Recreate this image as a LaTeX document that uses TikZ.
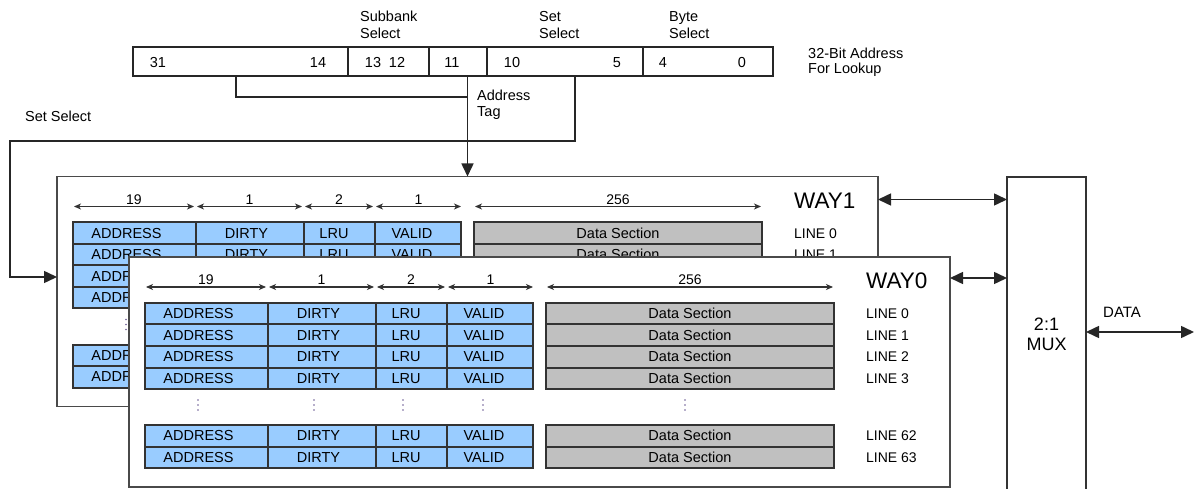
\documentclass[tikz,border=0pt]{standalone}
\usepackage{fontspec}
\setmainfont{Liberation Sans}
\usetikzlibrary{arrows.meta,calc}

\definecolor{tagblue}{HTML}{99CCFF}
\definecolor{datagray}{HTML}{C0C0C0}
\definecolor{edge}{HTML}{333333}
\definecolor{waygray}{HTML}{4A4A4A}
\definecolor{dotpurple}{HTML}{6E5E96}

\newcommand\fsz[1]{\fontsize{#1}{#1}\selectfont}

\tikzset{
  cell/.style={draw=edge, line width=2pt, inner sep=0pt, outer sep=0pt,
    minimum height=21.5pt, font=\fsz{14.5}},
  tagcell/.style={cell, fill=tagblue},
  datacell/.style={cell, fill=datagray},
  nudge/.style={execute at begin node={\hspace*{-#1}}},
  waybox/.style={draw=waygray, line width=1.4pt, fill=white, inner sep=0pt,
    outer sep=0pt, minimum width=821pt, minimum height=230pt},
  waytitle/.style={anchor=west, inner sep=0pt, font=\fsz{22.5}},
  linetag/.style={anchor=west, inner sep=0pt, font=\fsz{14}},
  dimline/.style={draw=black!80, line width=1.1pt,
    {Stealth[length=7pt,width=6pt,inset=2pt]}-{Stealth[length=7pt,width=6pt,inset=2pt]}},
  dimlabel/.style={above, inner sep=1.5pt, font=\fsz{14}},
  field/.style={draw=black!85, line width=1.6pt, inner sep=0pt, outer sep=0pt,
    minimum height=29pt},
  num/.style={inner sep=0pt, font=\fsz{14.5}},
  txt/.style={anchor=base west, inner sep=0pt, font=\fsz{14.5}},
  conn/.style={draw=black!85, line width=1.5pt},
  tip/.style={-{Triangle[length=13pt,width=12pt]}},
  bitip/.style={{Triangle[length=13pt,width=12pt]}-{Triangle[length=13pt,width=12pt]}},
  muxbox/.style={draw=black!80, line width=1.5pt, inner sep=0pt, outer sep=0pt,
    minimum width=79pt, minimum height=314pt, align=center,
    font=\fontsize{18}{20}\selectfont},
}

% One cache line: #1 way, #2 line number, #3 y, #4 = 1 when its texts are in view
\newcommand\wayrow[4]{%
  \node[tagcell, minimum width=123pt, nudge=16pt] (#1-addr-#2) at (206.5,#3) {ADDRESS};
  \ifnum#4=1
    \node[tagcell, minimum width=108pt, nudge=7pt] (#1-dirty-#2) at (322,#3) {DIRTY};
    \node[tagcell, minimum width=71pt, nudge=11pt] (#1-lru-#2) at (411.5,#3) {LRU};
    \node[tagcell, minimum width=86pt, nudge=12pt] (#1-valid-#2) at (490,#3) {VALID};
    \node[datacell, minimum width=288pt] (#1-data-#2) at (690,#3) {Data Section};
    \node[linetag] (#1-line-#2) at (866,#3) {LINE #2};
  \else
    \node[tagcell, minimum width=108pt] (#1-dirty-#2) at (322,#3) {};
    \node[tagcell, minimum width=71pt] (#1-lru-#2) at (411.5,#3) {};
    \node[tagcell, minimum width=86pt] (#1-valid-#2) at (490,#3) {};
    \node[datacell, minimum width=288pt] (#1-data-#2) at (690,#3) {};
  \fi}

% One way of the cache: tag fields, data sections, line numbers and widths
\newcommand\cacheway[5]{%
  \begin{scope}[shift={(#2,#3)}]
    \node[waybox] (#1) at (539.5,372) {};
    \node[waytitle] (#1-title) at (866,281) {#4};
    \foreach \r/\y/\f in {#5}{\wayrow{#1}{\r}{\y}{\f}}
    \foreach \x in {198,314,403,483,685}{
      \foreach \yy in {400,405,410}
        \fill[dotpurple] (\x,\yy) circle (0.9pt);
    }
    \draw[dimline] ([xshift=1pt,yshift=16pt]#1-addr-0.north west)
      -- node[dimlabel]{19} ([xshift=-2pt,yshift=16pt]#1-addr-0.north east);
    \draw[dimline] ([xshift=1pt,yshift=16pt]#1-dirty-0.north west)
      -- node[dimlabel]{1} ([xshift=-2pt,yshift=16pt]#1-dirty-0.north east);
    \draw[dimline] ([xshift=1pt,yshift=16pt]#1-lru-0.north west)
      -- node[dimlabel]{2} ([xshift=-2pt,yshift=16pt]#1-lru-0.north east);
    \draw[dimline] ([xshift=1pt,yshift=16pt]#1-valid-0.north west)
      -- node[dimlabel]{1} ([xshift=0pt,yshift=16pt]#1-valid-0.north east);
    \draw[dimline] ([xshift=1pt,yshift=16pt]#1-data-0.north west)
      -- node[dimlabel]{256} ([xshift=-1pt,yshift=16pt]#1-data-0.north east);
  \end{scope}}

\begin{document}
\begin{tikzpicture}[x=1pt, y=-1pt]
  \useasboundingbox (0,0) rectangle (1195,489);
  \clip (0,0) rectangle (1195,489);

  % 32-bit address register
  \node[field, minimum width=215pt] (f1) at (240.5,61.5) {};
  \node[field, minimum width=81pt]  (f2) at (388.5,61.5) {};
  \node[field, minimum width=58pt]  (f3) at (458,61.5) {};
  \node[field, minimum width=156pt] (f4) at (565,61.5) {};
  \node[field, minimum width=130pt] (f5) at (708,61.5) {};
  \node[num] (b31) at (158,62.5) {31};
  \node[num] (b14) at (318,62.5) {14};
  \node[num] (b13) at (373,62.5) {13};
  \node[num] (b12) at (397,62.5) {12};
  \node[num] (b11) at (452,62.5) {11};
  \node[num] (b10) at (512,62.5) {10};
  \node[num] (b5)  at (617,62.5) {5};
  \node[num] (b4)  at (663,62.5) {4};
  \node[num] (b0)  at (742,62.5) {0};

  \node[txt] (sub1) at (360,21.5) {Subbank};
  \node[txt] (sub2) at (360,38.5) {Select};
  \node[txt] (set1) at (539,21.5) {Set};
  \node[txt] (set2) at (539,38.5) {Select};
  \node[txt] (byte1) at (669,21.5) {Byte};
  \node[txt] (byte2) at (669,38.5) {Select};
  \node[txt] (adr1) at (808,59) {32-Bit Address};
  \node[txt] (adr2) at (808,73.5) {For Lookup};
  \node[txt] (tag1) at (477,101) {Address};
  \node[txt] (tag2) at (477,116.5) {Tag};
  \node[txt] (ssel) at (25,121.5) {Set Select};

  % the two ways, WAY1 behind WAY0
  \cacheway{w1}{-72}{-80.5}{WAY1}{0/313.75/1,1/335.25/1,2/356.75/0,3/378.25/0,62/435.75/0,63/457.25/0}
  \cacheway{w0}{0}{0}{WAY0}{0/313.75/1,1/335.25/1,2/356.75/1,3/378.25/1,62/435.75/1,63/457.25/1}

  % multiplexer
  \node[muxbox] (mux) at (1046.5,334) {2:1\\MUX};
  \coordinate (dataout) at (1194,332);
  \node[txt, font=\fsz{15}] (datalbl) at (1103,317) {DATA};

  % address tag and set select paths
  \coordinate (tagjoin) at ($(f3.south -| w1.north)+(0,21)$);
  \draw[conn] ([xshift=-4.5pt]f1.south) |- (tagjoin);
  \draw[conn, tip] (f3.south -| w1.north) -- (w1.north);
  \coordinate (setcorner) at (10,141);
  \draw[conn, tip] ([xshift=10pt]f4.south) |- (setcorner)
    |- ([yshift=14.5pt]w1.west);

  % data paths to and from the multiplexer
  \draw[conn, bitip] ([yshift=-23pt]w1.north east)
    -- ([yshift=-23pt]w1.north east -| mux.west);
  \draw[conn, bitip] ([yshift=-21pt]w0.north east)
    -- ([yshift=-21pt]w0.north east -| mux.west);
  \draw[conn, bitip] (mux.east |- dataout) -- (dataout);
\end{tikzpicture}
\end{document}
